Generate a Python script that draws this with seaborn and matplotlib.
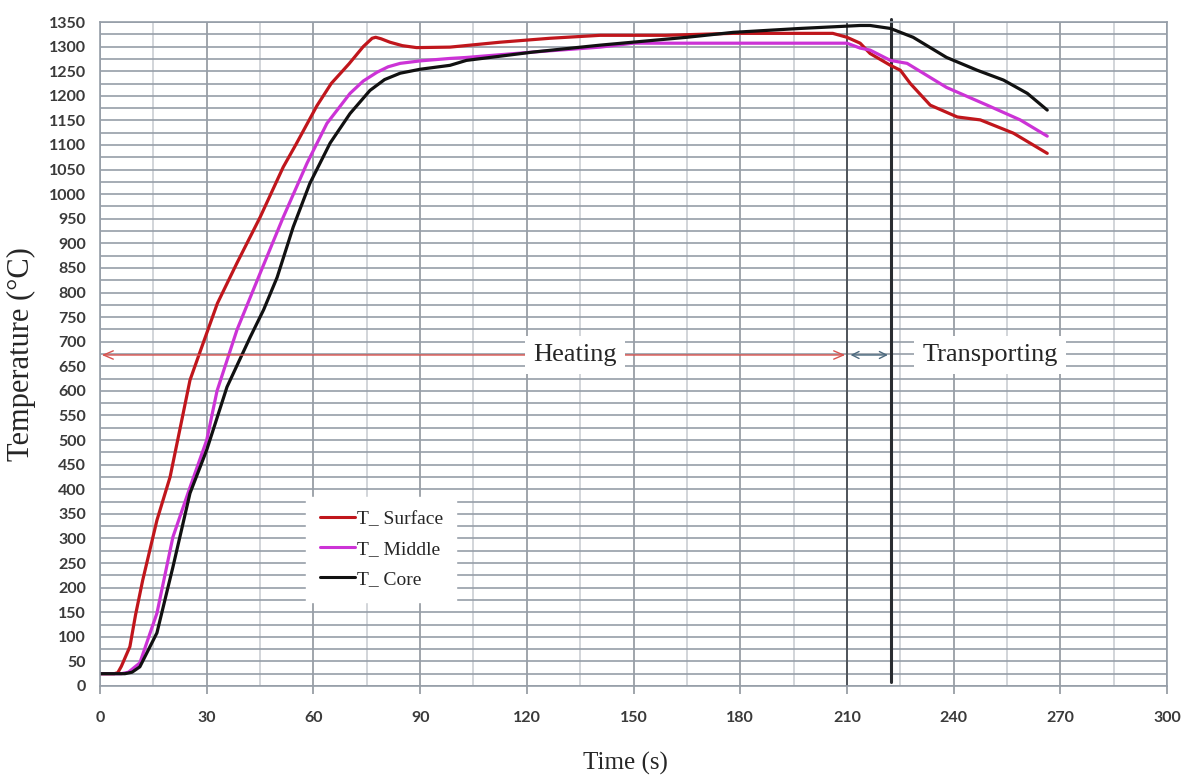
import numpy as np
import pandas as pd
import seaborn as sns
import matplotlib.pyplot as plt
from matplotlib.ticker import MultipleLocator

# readings taken off the curves (time in s, temperature in deg C)
t_surface = [0, 4, 5, 6, 8.4, 10, 12, 16, 19.7, 23.4, 25.3, 28, 33, 38.5, 45, 51.5, 55, 58, 61,
             65, 70, 74, 76.5, 77.5, 79, 81.5, 85, 89, 98.4, 112.5, 126.5, 140.6, 159, 178, 206,
             210, 213.7, 216.5, 222.2, 225, 227.8, 233.4, 241, 247.5, 256.8, 266.3]
T_surface = [25, 25, 27, 40, 80, 145, 215, 337, 425, 555, 622, 677, 778, 860, 953, 1055, 1100,
             1140, 1180, 1225, 1265, 1300, 1317, 1319, 1316, 1309, 1302, 1298, 1299, 1309, 1317,
             1323, 1323, 1327, 1327, 1319, 1307, 1286, 1262, 1252, 1225, 1181, 1157, 1151, 1124,
             1083]

t_middle = [0, 6, 8, 11.2, 16, 20.5, 25.3, 30, 32.9, 38.5, 45, 51.5, 58.2, 63.8, 70.3, 74,
            77.9, 81, 84.4, 90, 98.4, 103, 121.8, 140.6, 150, 178, 210, 213.7, 216.5, 222.2,
            226.9, 238, 249.4, 258.7, 266.3]
T_middle = [25, 25, 28, 47, 148, 303, 404, 500, 600, 724, 839, 953, 1063, 1144, 1205, 1230,
            1248, 1259, 1266, 1271, 1276, 1278, 1289, 1299, 1307, 1307, 1307, 1297, 1293, 1272,
            1266, 1217, 1181, 1151, 1118]

t_core = [0, 7, 9, 11.2, 16, 20.5, 25.3, 30, 35.7, 42.2, 46, 49.8, 54.3, 59, 64.7, 70.3, 75.9,
          80, 84.4, 90, 98.4, 103, 121.8, 140.6, 165, 178, 196.9, 202.5, 213.7, 216.5, 222.2,
          228.6, 238, 246.6, 254, 260.7, 266.3]
T_core = [25, 25, 28, 39, 108, 242, 392, 480, 608, 709, 765, 831, 933, 1022, 1104, 1164, 1211,
          1233, 1246, 1254, 1262, 1272, 1289, 1303, 1319, 1329, 1337, 1339, 1343, 1343, 1337,
          1319, 1278, 1252, 1232, 1205, 1171]

series = ["T_ Surface", "T_ Middle", "T_ Core"]
colors = ["#c0161c", "#cc33d6", "#111111"]

df = pd.concat([
    pd.DataFrame({"time": t_surface, "temp": T_surface, "series": series[0]}),
    pd.DataFrame({"time": t_middle, "temp": T_middle, "series": series[1]}),
    pd.DataFrame({"time": t_core, "temp": T_core, "series": series[2]}),
])

sns.set_style("white")
serif = ["Liberation Serif", "DejaVu Serif"]
tickfont = ["Lato", "DejaVu Sans"]

fig = plt.figure(figsize=(11.85, 7.76), dpi=100)
ax = fig.add_axes([0.0844, 0.116, 0.9005, 0.8556])

# Excel-style grid
ax.set_xlim(0, 300)
ax.set_ylim(0, 1350)
ax.xaxis.set_major_locator(MultipleLocator(30))
ax.xaxis.set_minor_locator(MultipleLocator(15))
ax.yaxis.set_major_locator(MultipleLocator(50))
ax.yaxis.set_minor_locator(MultipleLocator(25))
ax.grid(which="major", axis="x", color="#868d95", lw=1.1)
ax.grid(which="minor", axis="x", color="#c6cad0", lw=1.1)
ax.grid(which="both", axis="y", color="#969ea8", lw=1.2)
ax.set_axisbelow(True)
for s in ax.spines.values():
    s.set_color("#969ea8")
    s.set_linewidth(1.2)

sns.lineplot(data=df, x="time", y="temp", hue="series", palette=colors,
             sort=False, estimator=None, lw=2.3, ax=ax)
for ln in ax.get_lines():
    ln.set_solid_joinstyle("round")

# phase boundaries
ax.axvline(210, color="#4a4f55", lw=1.3, zorder=1.5)
ax.plot([222.5, 222.5], [8, 1356], color="#2a2d31", lw=2.2, clip_on=False, zorder=1.5)

# heating / transporting arrows
ax.annotate("", xy=(0.5, 673), xytext=(209.5, 673),
            arrowprops=dict(arrowstyle="<->,head_length=0.7,head_width=0.3", color="#d9534f",
                            lw=1, shrinkA=0, shrinkB=0))
ax.annotate("", xy=(211, 673), xytext=(221.5, 673),
            arrowprops=dict(arrowstyle="<->,head_length=0.5,head_width=0.25", color="#4d6a7f",
                            lw=1, shrinkA=0, shrinkB=0))
ax.text(133.5, 673, "Heating", family=serif, fontsize=19, ha="center", va="center",
        bbox=dict(facecolor="white", edgecolor="none", pad=6))
ax.text(250.3, 673, "Transporting", family=serif, fontsize=19, ha="center", va="center",
        bbox=dict(facecolor="white", edgecolor="none", pad=6))

ax.tick_params(axis="y", which="both", length=0, pad=10)
ax.tick_params(axis="x", which="major", length=6, width=1.1, color="#868d95", pad=12,
               direction="out", bottom=True)
ax.tick_params(axis="x", which="minor", length=0)
for lab in ax.get_xticklabels() + ax.get_yticklabels():
    lab.set_family(tickfont)
    lab.set_fontweight("bold")
    lab.set_fontsize(11.5)
    lab.set_color("#3a3a3a")

ax.set_xlabel("Time (s)", family=serif, fontsize=18)
ax.set_ylabel("Temperature (°C)", family=serif, fontsize=22)
ax.xaxis.set_label_coords(0.492, -0.1)
ax.yaxis.set_label_coords(-0.06, 0.5)

leg = ax.legend(loc="upper left", bbox_to_anchor=(0.184, 0.3), frameon=True,
                fancybox=False, framealpha=1, edgecolor="white", prop={"family": serif, "size": 14},
                handlelength=1.8, handletextpad=0.1, labelspacing=0.65, borderpad=0.7)
for h in leg.get_lines():
    h.set_linewidth(2.2)

fig.savefig("out.png", dpi=100)
